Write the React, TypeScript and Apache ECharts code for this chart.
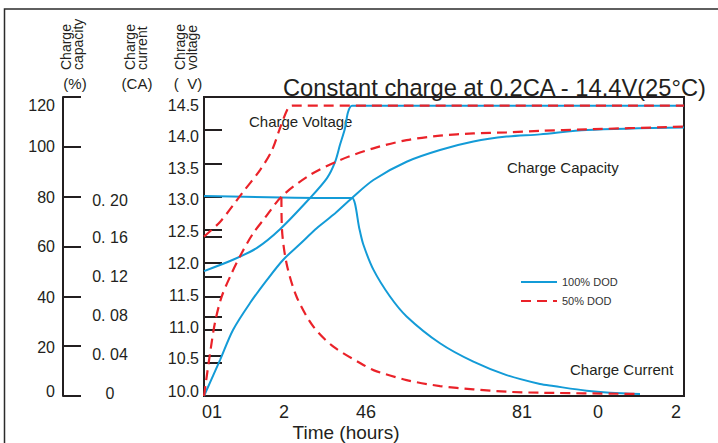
import React, { useEffect, useRef } from "react";
import * as echarts from "echarts";

// ---------- data ----------
const xTickValues = [0, 4, 8, 12, 16, 20, 24];
const xTickLabels = ["01", "2", "46", "", "81", "0", "2"];

const voltageTicks = [14.5, 14.0, 13.5, 13.0, 12.5, 12.0, 11.5, 11.0, 10.5, 10.0];
const capacityTicks = [120, 100, 80, 60, 40, 20, 0];
const currentTicks = [0.2, 0.16, 0.12, 0.08, 0.04, 0];
const currentTickLabels = ["0. 20", "0. 16", "0. 12", "0. 08", "0. 04", "0"];

// Charge voltage (V)
const voltage100Hours = [0, 1.45, 2.65, 3.8, 5.3, 6.15, 6.55, 6.8, 7.05, 7.2, 7.4, 10, 16, 24];
const voltage100Values = [11.88, 12.05, 12.23, 12.51, 12.98, 13.28, 13.52, 13.78, 14.03, 14.27, 14.37, 14.37, 14.37, 14.37];
const voltage50Hours = [0, 0.8, 1.9, 2.8, 3.4, 3.8, 4.2, 4.4, 10, 24];
const voltage50Values = [12.4, 12.62, 13.05, 13.4, 13.7, 14.03, 14.33, 14.37, 14.37, 14.37];

// Charge capacity (%)
const capacity100Hours = [0, 0.8, 1.45, 2.3, 3.15, 3.95, 4.8, 5.65, 6.45, 7.4, 8.47, 10.13, 11.8, 13.47, 15.13, 16.8, 19.13, 24];
const capacity100Values = [0, 14.4, 26.5, 37.3, 46.6, 54.6, 61, 67.4, 72.6, 79.5, 86.7, 94.0, 98.7, 102.1, 104.1, 105.0, 106.8, 107.8];
const capacity50Hours = [0, 0.3, 0.55, 0.88, 1.38, 1.88, 2.45, 3.0, 3.9, 5.3, 6.8, 8.47, 10.13, 11.8, 13.47, 15.13, 16.8, 19.13, 24];
const capacity50Values = [0, 17, 29.5, 39.8, 49.2, 57.3, 65.2, 71, 80.2, 88.7, 94.7, 99.4, 102.7, 104.5, 105.4, 105.8, 106.4, 107, 108.1];

// Charge current (CA)
const current100Hours = [0, 7.0, 7.4, 7.78, 7.97, 8.47, 9.3, 10.13, 11.8, 13.47, 15.13, 16.8, 17.47, 19.13, 20.3, 21.8];
const current100Values = [0.201, 0.199, 0.199, 0.167, 0.152, 0.127, 0.1, 0.08, 0.053, 0.0345, 0.021, 0.012, 0.01, 0.0053, 0.0033, 0.002];
const current50Hours = [3.87, 3.9, 4.13, 4.63, 5.47, 6.47, 7.97, 8.47, 10.13, 11.8, 13.47, 15.13, 16.8, 21.8];
const current50Values = [0.2, 0.167, 0.133, 0.0998, 0.0697, 0.0496, 0.0312, 0.026, 0.016, 0.01, 0.0067, 0.0043, 0.0033, 0.002];

// ---------- styling ----------
const BLUE = "#139bd7";
const RED = "#ea2229";
const INK = "#231f20";
const FONT = "'Liberation Sans', Arial, Helvetica, sans-serif";

const zip = (ts: number[], vs: number[]) => ts.map((t, i) => [t, vs[i]]);

// vertical nudges of tick labels (px, + = down)
const voltageShift = [8, 6, 5, 3, 2, 0, -1, -2, -4, -5];
const capacityShift = [8, 0, 1, 0, 1, 1, -5];
const currentShift = [3, 1, 0, -1, -2, -3];
// horizontal nudges of x labels (px, + = right)
const xShift = [8, 0, 2, 0, -2, -6, -8];

function vRich(shifts: number[], size: number) {
  const r: Record<string, any> = {};
  shifts.forEach((s, i) => {
    r["s" + i] = {
      fontSize: size,
      fontFamily: FONT,
      color: INK,
      padding: s >= 0 ? [2 * s, 0, 0, 0] : [0, 0, -2 * s, 0],
    };
  });
  return r;
}
function hRich(shifts: number[], size: number) {
  const r: Record<string, any> = {};
  shifts.forEach((s, i) => {
    r["s" + i] = {
      fontSize: size,
      fontFamily: FONT,
      color: INK,
      padding: s >= 0 ? [0, 0, 0, 2 * s] : [0, -2 * s, 0, 0],
    };
  });
  return r;
}
const nearestIndex = (arr: number[], v: number) => {
  let best = 0;
  arr.forEach((a, i) => {
    if (Math.abs(a - v) < Math.abs(arr[best] - v)) best = i;
  });
  return best;
};

export default function App() {
  const ref = useRef<HTMLDivElement>(null);

  useEffect(() => {
    if (!ref.current) return;
    const chart = echarts.init(ref.current, undefined, { renderer: "svg" });

    const lineBase = {
      type: "line" as const,
      symbol: "none",
      showSymbol: false,
      smooth: 0.3,
      clip: false,
      silent: true,
    };
    const blueStyle = { color: BLUE, width: 2 };
    const redStyle = { color: RED, width: 2.2, type: [10, 6] as any };

    const axisLineStyle = { show: true, lineStyle: { color: INK, width: 2 } };
    const tickStyle = { show: true, inside: true, length: 18, lineStyle: { color: INK, width: 2 } };

    chart.setOption({
      animation: false,
      backgroundColor: "#ffffff",
      textStyle: { fontFamily: FONT },
      grid: [
        { left: 204, top: 97, width: 480, height: 299, show: true, borderColor: INK, borderWidth: 2, backgroundColor: "transparent" },
        { left: 204, top: 197, width: 480, height: 199, show: false },
      ],
      legend: {
        data: ["100% DOD", "50% DOD"],
        orient: "vertical",
        left: 520,
        top: 276,
        padding: 0,
        itemWidth: 36,
        itemHeight: 8,
        itemGap: 7,
        selectedMode: false,
        itemStyle: { opacity: 0 },
        textStyle: { fontSize: 11, color: "#333333", fontFamily: FONT, lineHeight: 12 },
      },
      xAxis: [
        {
          gridIndex: 0,
          type: "value",
          min: 0,
          max: 24,
          interval: 4,
          axisLine: { show: false },
          axisTick: { show: false },
          splitLine: { show: false },
          axisLabel: {
            margin: 7,
            fontSize: 18,
            color: INK,
            fontFamily: FONT,
            formatter: (v: number) => {
              const i = nearestIndex(xTickValues, v);
              const t = xTickLabels[i];
              return t ? `{s${i}|${t}}` : "";
            },
            rich: hRich(xShift, 18),
          },
        },
        { gridIndex: 1, type: "value", min: 0, max: 24, show: false },
      ],
      yAxis: [
        {
          gridIndex: 0,
          type: "value",
          position: "left",
          offset: 0,
          min: 10,
          max: 14.5,
          interval: 0.5,
          axisLine: axisLineStyle,
          axisTick: tickStyle,
          splitLine: { show: false },
          axisLabel: {
            margin: 5,
            fontSize: 16,
            color: INK,
            formatter: (v: number) => {
              const i = nearestIndex(voltageTicks, v);
              return `{s${i}|${voltageTicks[i].toFixed(1)}}`;
            },
            rich: vRich(voltageShift, 16),
          },
        },
        {
          gridIndex: 0,
          type: "value",
          position: "left",
          offset: 141,
          min: 0,
          max: 120,
          interval: 20,
          axisLine: axisLineStyle,
          axisTick: tickStyle,
          splitLine: { show: false },
          axisLabel: {
            margin: 8,
            fontSize: 16,
            color: INK,
            formatter: (v: number) => {
              const i = nearestIndex(capacityTicks, v);
              return `{s${i}|${capacityTicks[i]}}`;
            },
            rich: vRich(capacityShift, 16),
          },
        },
        {
          gridIndex: 1,
          type: "value",
          position: "left",
          offset: 64,
          min: 0,
          max: 0.2,
          interval: 0.04,
          axisLine: axisLineStyle,
          axisTick: tickStyle,
          splitLine: { show: false },
          axisLabel: {
            margin: 30,
            align: "center",
            fontSize: 16,
            color: INK,
            formatter: (v: number) => {
              const i = nearestIndex(currentTicks, v);
              return `{s${i}|${currentTickLabels[i]}}`;
            },
            rich: vRich(currentShift, 16),
          },
        },
      ],
      series: [
        { ...lineBase, name: "100% DOD", xAxisIndex: 0, yAxisIndex: 0, data: zip(voltage100Hours, voltage100Values), lineStyle: blueStyle, itemStyle: { color: BLUE }, z: 3 },
        { ...lineBase, name: "100% DOD", xAxisIndex: 0, yAxisIndex: 1, data: zip(capacity100Hours, capacity100Values), lineStyle: blueStyle, itemStyle: { color: BLUE }, z: 3 },
        { ...lineBase, name: "100% DOD", xAxisIndex: 1, yAxisIndex: 2, data: zip(current100Hours, current100Values), lineStyle: blueStyle, itemStyle: { color: BLUE }, z: 3 },
        { ...lineBase, name: "50% DOD", xAxisIndex: 0, yAxisIndex: 0, data: zip(voltage50Hours, voltage50Values), lineStyle: redStyle, itemStyle: { color: RED }, z: 4 },
        { ...lineBase, name: "50% DOD", xAxisIndex: 0, yAxisIndex: 1, data: zip(capacity50Hours, capacity50Values), lineStyle: redStyle, itemStyle: { color: RED }, z: 4 },
        { ...lineBase, name: "50% DOD", xAxisIndex: 1, yAxisIndex: 2, data: zip(current50Hours, current50Values), lineStyle: redStyle, itemStyle: { color: RED }, z: 4 },
      ],
      graphic: [
        { type: "rect", shape: { x: 4.5, y: 9, width: 740, height: 460 }, style: { fill: "none", stroke: "#2b2b2b", lineWidth: 1.5 }, silent: true },
        { type: "text", x: 283, y: 88, style: { text: "Constant charge at 0.2CA - 14.4V(25°C)", fontSize: 23.7, fontFamily: FONT, fill: INK, align: "left", verticalAlign: "middle" } },
        { type: "text", x: 249, y: 121, style: { text: "Charge Voltage", fontSize: 15, fontFamily: FONT, fill: INK, align: "left", verticalAlign: "middle" } },
        { type: "text", x: 507, y: 167, style: { text: "Charge Capacity", fontSize: 15, fontFamily: FONT, fill: INK, align: "left", verticalAlign: "middle" } },
        { type: "text", x: 570, y: 369, style: { text: "Charge Current", fontSize: 15, fontFamily: FONT, fill: INK, align: "left", verticalAlign: "middle" } },
        { type: "text", x: 346, y: 432, style: { text: "Time (hours)", fontSize: 19, fontFamily: FONT, fill: INK, align: "center", verticalAlign: "middle" } },
        { type: "text", x: 72, y: 70, rotation: Math.PI / 2, style: { text: "Charge\ncapacity", fontSize: 14, lineHeight: 12, fontFamily: FONT, fill: INK, align: "left", verticalAlign: "middle" } },
        { type: "text", x: 136, y: 70, rotation: Math.PI / 2, style: { text: "Charge\ncurrent", fontSize: 14, lineHeight: 12, fontFamily: FONT, fill: INK, align: "left", verticalAlign: "middle" } },
        { type: "text", x: 186, y: 70, rotation: Math.PI / 2, style: { text: "Chrage\nvoltage", fontSize: 14, lineHeight: 12, fontFamily: FONT, fill: INK, align: "left", verticalAlign: "middle" } },
        { type: "text", x: 75, y: 83, style: { text: "(%)", fontSize: 15, fontFamily: FONT, fill: INK, align: "center", verticalAlign: "middle" } },
        { type: "text", x: 137, y: 83, style: { text: "(CA)", fontSize: 15, fontFamily: FONT, fill: INK, align: "center", verticalAlign: "middle" } },
        { type: "text", x: 188, y: 83, style: { text: "(  V)", fontSize: 15, fontFamily: FONT, fill: INK, align: "center", verticalAlign: "middle" } },
      ],
    });

    return () => chart.dispose();
  }, []);

  return (
    <div
      ref={ref}
      style={{ position: "fixed", left: 0, top: 0, width: 718, height: 443, background: "#ffffff" }}
    />
  );
}
